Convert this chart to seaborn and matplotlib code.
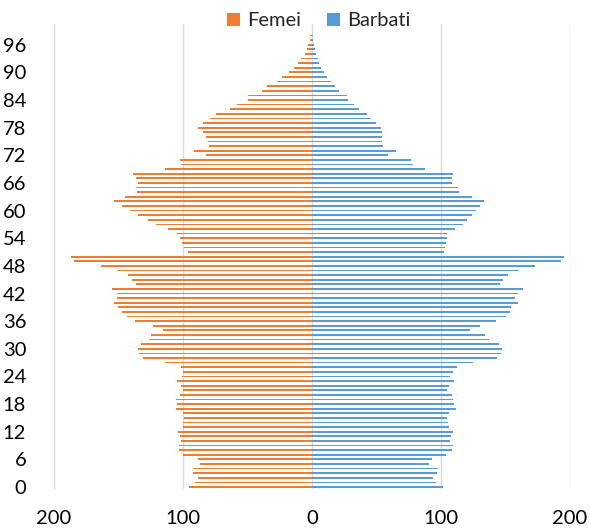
import numpy as np
import pandas as pd
import matplotlib
matplotlib.use("Agg")
import matplotlib.pyplot as plt
from matplotlib.patches import Patch
import seaborn as sns

ages = list(range(0, 101))

femei = [95.6, 90.4, 88.3, 92.1, 92.1, 86.6, 88.6, 99.7, 102.9, 102.9,
         101.2, 102.0, 103.5, 100.0, 100.0, 99.0, 100.0, 105.8, 105.0, 105.5,
         102.0, 99.7, 101.5, 104.4, 100.6, 100.0, 101.5, 114.0, 131.0, 133.8,
         134.7, 132.4, 126.5, 124.8, 115.5, 123.0, 137.0, 143.4, 147.2, 150.1,
         153.4, 151.3, 151.3, 154.8, 136.7, 139.9, 142.3, 151.3, 163.6, 184.3,
         187.2, 95.9, 99.1, 100.6, 102.3, 105.0, 112.0, 121.0, 126.8, 135.0,
         141.1, 146.9, 153.6, 144.9, 135.3, 136.7, 135.0, 136.4, 138.8, 113.7,
         101.2, 102.0, 82.2, 91.8, 80.2, 80.8, 82.5, 84.5, 88.3, 84.5,
         78.7, 74.3, 63.6, 58.0, 49.6, 49.6, 38.5, 34.7, 27.1, 23.3,
         17.8, 13.7, 10.5, 8.2, 5.8, 3.8, 2.9, 1.8, 1.3, 0.0,
         0.0]

barbati = [101.5, 96.2, 93.9, 96.8, 97.7, 90.7, 93.3, 104.1, 108.7, 109.3,
           107.0, 107.6, 109.0, 106.0, 105.8, 104.4, 106.0, 111.7, 110.2, 109.6,
           108.2, 104.4, 106.4, 110.2, 107.0, 109.0, 112.2, 125.0, 143.7, 146.6,
           146.9, 144.6, 137.0, 134.1, 122.4, 130.0, 142.9, 150.1, 153.6, 153.9,
           159.8, 157.4, 159.8, 163.3, 145.5, 148.1, 151.9, 160.3, 172.9, 193.0,
           195.3, 102.0, 102.9, 104.1, 104.4, 105.0, 110.8, 117.2, 120.1, 124.2,
           126.8, 130.6, 133.2, 124.2, 114.3, 113.1, 108.7, 108.5, 109.3, 87.5,
           78.1, 76.7, 58.9, 65.0, 55.4, 54.5, 54.2, 53.9, 53.4, 49.9,
           46.1, 42.9, 36.2, 32.4, 27.7, 27.1, 20.7, 17.8, 14.6, 11.9,
           9.3, 7.3, 5.5, 4.4, 2.9, 2.3, 1.7, 0.9, 0.8, 0.0,
           0.0]

series_names = ["Femei", "Barbati"]
x_ticks = [-200, -100, 0, 100, 200]
x_tick_labels = ["200", "100", "0", "100", "200"]
y_ticks = list(range(0, 97, 6))

c_f = "#ED7D31"
c_m = "#5B9BD5"

sns.set_theme(style="white")
plt.rcParams["font.family"] = ["Lato", "DejaVu Sans"]

fig = plt.figure(figsize=(5.89, 5.28), dpi=100)
ax = fig.add_axes([54 / 589, 1 - 489.3 / 528, (570 - 54) / 589, (489.3 - 24) / 528])

df = pd.DataFrame({"age": ages,
                   "femei": -np.array(femei),
                   "barbati": np.array(barbati)})

sns.barplot(data=df, x="femei", y="age", orient="h", native_scale=True,
            width=0.38, color=c_f, saturation=1, errorbar=None, ax=ax,
            linewidth=0)
sns.barplot(data=df, x="barbati", y="age", orient="h", native_scale=True,
            width=0.38, color=c_m, saturation=1, errorbar=None, ax=ax,
            linewidth=0)

ax.set_xlim(-200, 200)
ax.set_ylim(-0.5, 100.5)
ax.set_xticks(x_ticks)
ax.set_xticklabels(x_tick_labels)
ax.set_yticks(y_ticks)
ax.set_yticklabels([str(t) for t in y_ticks])
ax.set_xlabel("")
ax.set_ylabel("")
ax.grid(False)
for x in x_ticks:
    ax.axvline(x, color="#D9D9D9", linewidth=1.0, zorder=0)
for s in ax.spines.values():
    s.set_visible(False)
ax.tick_params(axis="x", length=0, pad=15, labelsize=14.5, colors="#000000")
ax.tick_params(axis="y", length=0, pad=20, labelsize=14.5, colors="#000000")

handles = [Patch(facecolor=c_f, edgecolor="none"),
           Patch(facecolor=c_m, edgecolor="none")]
fig.legend(handles, series_names, loc="center", bbox_to_anchor=(319 / 589, 1 - 21 / 528),
           ncol=2, frameon=False, fontsize=14.5, handlelength=0.65, handleheight=0.65,
           handletextpad=0.35, columnspacing=1.3, borderpad=0, borderaxespad=0)

fig.savefig("out.png", dpi=100)
